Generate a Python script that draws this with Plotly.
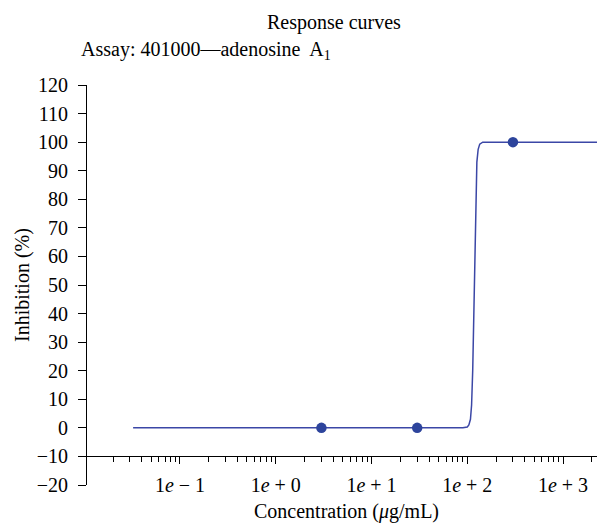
import plotly.graph_objects as go

# Measured data points (concentration in ug/mL, inhibition %)
conc_points = [3, 30, 300]
inhib_points = [0, 0, 100]

# Fitted response curve
curve_conc = [0.0324, 90, 100, 104, 108, 111, 114, 117, 120, 123, 126, 130, 135, 145, 2300]
curve_inhib = [0, 0, 0.3, 1, 3, 8, 20, 42, 65, 84, 93, 97.5, 99.3, 100, 100]

y_ticks = list(range(-20, 130, 10))
x_major = [0.1, 1, 10, 100, 1000]
x_major_text = ["1<i>e</i> − 1", "1<i>e</i> + 0", "1<i>e</i> + 1", "1<i>e</i> + 2", "1<i>e</i> + 3"]
x_minor = [m * 10 ** e for e in range(-2, 4) for m in range(2, 10)]

FONT = "Liberation Serif"
FS = 20
LINE_COLOR = "#3b47a6"
MARK_COLOR = "#2d449c"

fig = go.Figure()
fig.add_trace(go.Scatter(x=curve_conc, y=curve_inhib, mode="lines",
                         line=dict(color=LINE_COLOR, width=1.5), showlegend=False))
fig.add_trace(go.Scatter(x=conc_points, y=inhib_points, mode="markers",
                         marker=dict(color=MARK_COLOR, size=10.5), showlegend=False))

fig.update_layout(
    width=597, height=524,
    margin=dict(l=87, r=0, t=85, b=39),
    paper_bgcolor="white", plot_bgcolor="white",
    font=dict(family=FONT, size=FS, color="black"),
    xaxis=dict(
        type="log", range=[-1.971, 3.355],
        anchor="free", position=10 / 140,
        showline=True, linecolor="black", linewidth=1,
        ticks="outside", ticklen=7, tickcolor="black",
        tickvals=x_major, ticktext=x_major_text,
        ticklabelstandoff=4,
        tickfont=dict(size=FS),
        minor=dict(tickvals=x_minor, ticks="outside", ticklen=5, tickcolor="black", showgrid=False),
        showgrid=False, zeroline=False,
    ),
    yaxis=dict(
        range=[-20, 120],
        showline=True, linecolor="black", linewidth=1,
        ticks="outside", ticklen=8, tickcolor="black",
        tickvals=y_ticks, ticklabelstandoff=6,
        tickfont=dict(size=FS),
        showgrid=False, zeroline=False,
    ),
    annotations=[
        dict(text="Response curves", xref="paper", yref="paper",
             x=(334 - 87) / 510, y=(485 - 23) / 400, showarrow=False,
             xanchor="center", yanchor="middle", font=dict(size=FS)),
        dict(text="Assay: 401000—adenosine  A<sub>1</sub>", xref="paper", yref="paper",
             x=(79 - 87) / 510, y=(485 - 50) / 400, showarrow=False,
             xanchor="left", yanchor="middle", font=dict(size=FS)),
        dict(text="Concentration (<i>μ</i>g/mL)", xref="paper", yref="paper",
             x=(346 - 87) / 510, y=(485 - 511) / 400, showarrow=False,
             xanchor="center", yanchor="middle", font=dict(size=FS)),
        dict(text="Inhibition (%)", xref="paper", yref="paper",
             x=(22 - 87) / 510, y=(485 - 285) / 400, showarrow=False, textangle=-90,
             xanchor="center", yanchor="middle", font=dict(size=FS)),
    ],
)

fig.write_html("out.html")
